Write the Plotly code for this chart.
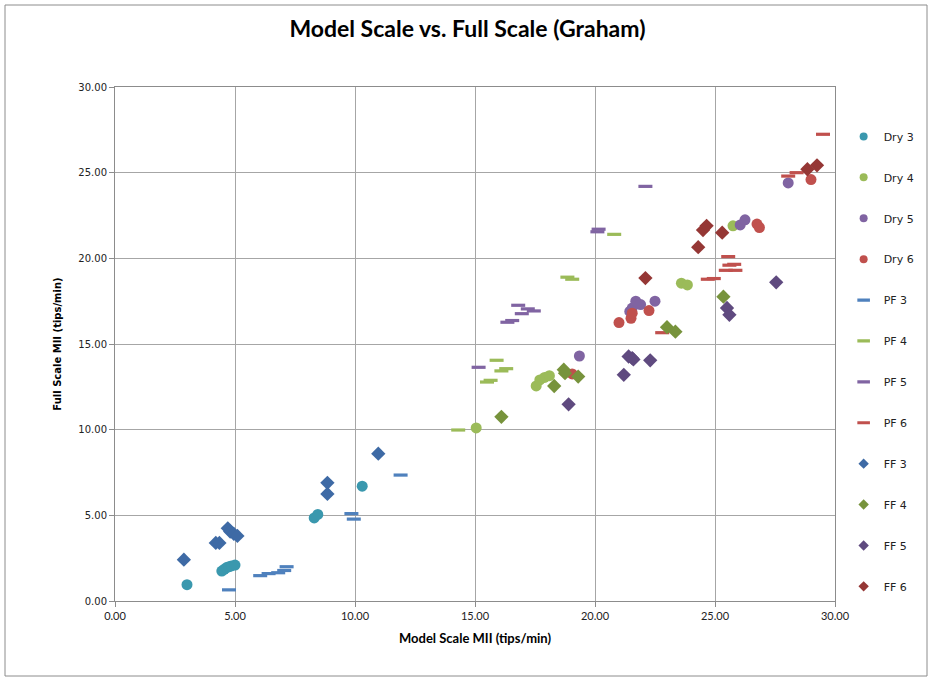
import plotly.graph_objects as go

# Mill speed comparison: model scale vs. full scale (tips/min)
dry3_x = [3.0, 4.45, 4.55, 4.65, 4.75, 4.85, 5.0, 8.3, 8.45, 10.3]
dry3_y = [0.95, 1.75, 1.85, 1.95, 2.0, 2.05, 2.1, 4.85, 5.05, 6.7]

dry4_x = [15.05, 17.55, 17.7, 17.9, 18.1, 23.6, 23.85, 25.75]
dry4_y = [10.1, 12.55, 12.9, 13.05, 13.15, 18.55, 18.45, 21.9]

dry5_x = [19.35, 21.45, 21.55, 21.7, 21.9, 22.5, 26.05, 26.25, 28.05]
dry5_y = [14.3, 16.9, 17.1, 17.5, 17.3, 17.5, 21.95, 22.25, 24.4]

dry6_x = [19.05, 21.0, 21.5, 21.55, 22.25, 26.75, 26.85, 29.0]
dry6_y = [13.25, 16.25, 16.5, 16.8, 16.95, 22.0, 21.8, 24.6]

pf3_x = [4.75, 6.05, 6.4, 6.8, 7.05, 7.15, 9.85, 9.95, 11.9]
pf3_y = [0.65, 1.48, 1.6, 1.65, 1.78, 2.0, 5.1, 4.78, 7.35]

pf4_x = [14.3, 15.5, 15.65, 15.9, 16.1, 16.3, 18.85, 19.05, 20.8]
pf4_y = [9.98, 12.78, 12.88, 14.05, 13.43, 13.56, 18.9, 18.78, 21.4]

pf5_x = [15.15, 16.35, 16.55, 16.8, 16.95, 17.2, 17.45, 20.1, 20.15, 22.1]
pf5_y = [13.64, 16.27, 16.37, 17.26, 16.77, 17.05, 16.93, 21.55, 21.7, 24.2]

pf6_x = [22.8, 24.7, 24.95, 25.55, 25.6, 25.8, 25.45, 25.85, 28.05, 28.4, 29.5]
pf6_y = [15.66, 18.78, 18.82, 20.1, 19.6, 19.65, 19.3, 19.3, 24.8, 25.0, 27.24]

ff3_x = [2.87, 4.2, 4.35, 4.7, 4.8, 4.95, 5.1, 8.85, 8.85, 10.97]
ff3_y = [2.41, 3.39, 3.39, 4.24, 4.05, 3.92, 3.8, 6.9, 6.25, 8.6]

ff4_x = [16.1, 18.3, 18.7, 18.75, 19.3, 23.0, 23.35, 25.35]
ff4_y = [10.75, 12.55, 13.5, 13.3, 13.1, 15.98, 15.72, 17.76]

ff5_x = [18.9, 21.2, 21.4, 21.55, 21.6, 22.3, 25.5, 25.6, 27.55]
ff5_y = [11.48, 13.2, 14.27, 14.17, 14.1, 14.05, 17.1, 16.7, 18.6]

ff6_x = [22.1, 24.3, 24.5, 24.65, 25.3, 28.85, 29.25]
ff6_y = [18.85, 20.65, 21.65, 21.9, 21.5, 25.2, 25.43]

axis_ticks = [0, 5, 10, 15, 20, 25, 30]

series = [
    ("Dry 3", dry3_x, dry3_y, "circle", "#3a98ae"),
    ("Dry 4", dry4_x, dry4_y, "circle", "#9bbb59"),
    ("Dry 5", dry5_x, dry5_y, "circle", "#8064a2"),
    ("Dry 6", dry6_x, dry6_y, "circle", "#c0504d"),
    ("PF 3", pf3_x, pf3_y, "line-ew", "#4f81bd"),
    ("PF 4", pf4_x, pf4_y, "line-ew", "#9bbb59"),
    ("PF 5", pf5_x, pf5_y, "line-ew", "#8064a2"),
    ("PF 6", pf6_x, pf6_y, "line-ew", "#c0504d"),
    ("FF 3", ff3_x, ff3_y, "diamond", "#3e6aa5"),
    ("FF 4", ff4_x, ff4_y, "diamond", "#77933c"),
    ("FF 5", ff5_x, ff5_y, "diamond", "#5f4a7f"),
    ("FF 6", ff6_x, ff6_y, "diamond", "#953735"),
]


def make_marker(sym, col, size):
    if sym == "line-ew":
        return dict(symbol=sym, size=size, color=col,
                    line=dict(color=col, width=3.2))
    return dict(symbol=sym, size=size + 1, color=col, line=dict(width=0))


fig = go.Figure()
for name, xs, ys, sym, col in series:
    # plotted points
    fig.add_trace(go.Scatter(
        x=xs, y=ys, mode="markers", name=name, legendgroup=name,
        marker=make_marker(sym, col, 10), showlegend=False,
    ))
    # smaller key symbol for the legend
    fig.add_trace(go.Scatter(
        x=[None], y=[None], mode="markers", name=name, legendgroup=name,
        marker=make_marker(sym, col, 7 if sym != "line-ew" else 9),
        showlegend=True,
    ))

grid = "#a6a6a6"
axis_common = dict(
    range=[0, 30], tickvals=axis_ticks, tickformat=".2f",
    showgrid=True, gridcolor=grid, gridwidth=1,
    showline=True, linecolor="#8c8c8c", linewidth=1, mirror=True,
    ticks="outside", ticklen=5, tickcolor="#8c8c8c",
    zeroline=False, fixedrange=True,
)

fig.update_layout(
    width=933, height=682,
    margin=dict(l=115, r=98, t=87, b=81, autoexpand=False),
    paper_bgcolor="white", plot_bgcolor="white",
    title=dict(
        text="<b>Model Scale vs. Full Scale (Graham)</b>",
        x=0.501, xref="container", xanchor="center", y=0.957, yanchor="middle",
        font=dict(family="Lato", size=23, color="#000000"),
    ),
    xaxis=dict(
        **axis_common,
        tickfont=dict(family="Lato", size=11, color="#222222"),
        title=dict(text="<b>Model Scale MII (tips/min)</b>",
                   font=dict(family="Lato", size=13, color="#000000"), standoff=12),
    ),
    yaxis=dict(
        **axis_common,
        tickfont=dict(family="DejaVu Sans", size=10, color="#222222"),
        title=dict(text="<b>Full Scale MII (tips/min)</b>",
                   font=dict(family="DejaVu Sans", size=10, color="#000000"), standoff=14),
    ),
    legend=dict(
        x=1.012, xanchor="left", y=0.932, yanchor="top",
        font=dict(family="DejaVu Sans", size=11, color="#222222"),
        tracegroupgap=21.9, itemwidth=30, bgcolor="rgba(0,0,0,0)",
        traceorder="grouped",
    ),
    showlegend=True,
)

# outer chart border
fig.add_shape(type="rect", xref="paper", yref="paper",
              x0=(5 - 115) / 720, x1=(927 - 115) / 720,
              y0=(601 - 676) / 514, y1=(601 - 5) / 514,
              line=dict(color="#8c8c8c", width=1), fillcolor="rgba(0,0,0,0)", layer="below")

fig.write_html("out.html")
